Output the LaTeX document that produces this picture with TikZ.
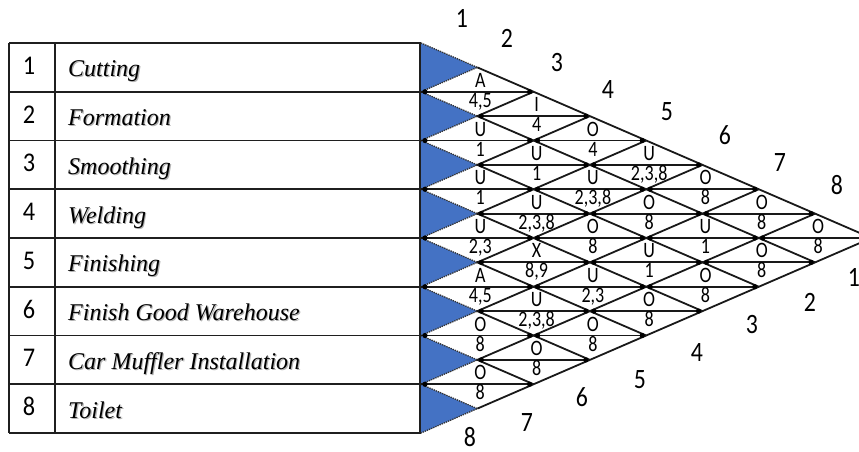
\documentclass[tikz,border=0pt]{standalone}
\usepackage{fontspec}
\setmainfont{Liberation Serif}
\newfontfamily\calibcell[FakeStretch=0.82]{Carlito}
\newfontfamily\calibnum[FakeStretch=0.85]{Carlito}
\newfontfamily\calibrow[FakeStretch=0.9]{Carlito}
\definecolor{relblue}{RGB}{68,114,196}
\begin{document}
\begin{tikzpicture}[x=1pt,y=-1pt,
  tbl/.style={line width=1.8pt, draw=black!88},
  gridline/.style={line width=1.8pt, draw=black!90},
  selfcell/.style={fill=relblue, draw=none},
  selfedge/.style={densely dotted, line width=1.3pt, draw=black!80},
  vdot/.style={circle, fill=black, inner sep=0pt, minimum size=5.2pt},
  rating/.style={font=\calibcell\fontsize{22}{22}\selectfont, inner sep=0pt, anchor=base},
  outnum/.style={font=\calibnum\fontsize{28}{28}\selectfont, inner sep=0pt},
  rownum/.style={font=\calibrow\fontsize{27}{27}\selectfont, inner sep=0pt, anchor=base},
  actname/.style={font=\itshape\fontsize{24}{24}\selectfont, inner sep=0pt, anchor=base west},
  actshadow/.style={actname, text=black!30},
]
\useasboundingbox (0,0) rectangle (859,452);
\fill[white] (0,0) rectangle (859,452);

% activity table
\foreach \k in {0,...,8}
  \draw[tbl] (9,{43+48.75*\k}) -- (421,{43+48.75*\k});
\draw[tbl] (9,43) -- (9,433);
\draw[tbl] (55,43) -- (55,433);
\draw[tbl] (420,43) -- (420,433);
\foreach \i/\name in {1/Cutting, 2/Formation, 3/Smoothing, 4/Welding,
                     5/Finishing, 6/Finish Good Warehouse,
                     7/Car Muffler Installation, 8/Toilet} {
  \node[rownum] (num\i) at (29,{43+48.75*(\i-0.5)+7}) {\i};
  \node[actshadow] (shadow\i) at (69.2,{43+48.75*(\i-0.5)+10.6}) {\name};
  \node[actname] (act\i) at (68,{43+48.75*(\i-0.5)+9.5}) {\name};
}

% relationship chart, in half-row units
\begin{scope}[shift={(421pt,-43pt)}, x=56.3pt, y=-24.375pt]
  % self cells
  \foreach \i in {1,...,8} {
    \fill[selfcell] (0,{2*\i-2}) -- (1,{2*\i-1}) -- (0,{2*\i}) -- cycle;
    \draw[selfedge] (0,{2*\i-2}) -- (1,{2*\i-1}) -- (0,{2*\i});
  }
  % diagonals
  \foreach \i in {1,...,8} {
    \draw[gridline] (1,{2*\i-1}) -- ({9-\i},{\i+7});
    \draw[gridline] (1,{2*\i-1}) -- (\i,\i);
  }
  % horizontal splits of the cells
  \foreach \v in {2,...,14} {
    \pgfmathsetmacro\hs{mod(\v,2)==0 ? 0 : 1}
    \pgfmathsetmacro\he{min(\v,16-\v)}
    \draw[gridline] (\hs,\v) -- (\he,\v);
  }
  % cell contents: closeness rating above, reasons below
  \foreach \i/\j/\r/\why in {
      1/2/A/{4,5}, 1/3/I/4, 1/4/O/4, 1/5/U/{2,3,8}, 1/6/O/8, 1/7/O/8, 1/8/O/8,
      2/3/U/1, 2/4/U/1, 2/5/U/{2,3,8}, 2/6/O/8, 2/7/U/1, 2/8/O/8,
      3/4/U/1, 3/5/U/{2,3,8}, 3/6/O/8, 3/7/U/1, 3/8/O/8,
      4/5/U/{2,3}, 4/6/X/{8,9}, 4/7/U/{2,3}, 4/8/O/8,
      5/6/A/{4,5}, 5/7/U/{2,3,8}, 5/8/O/8,
      6/7/O/8, 6/8/O/8,
      7/8/O/8} {
    \pgfmathsetmacro\u{\j-\i}
    \pgfmathsetmacro\v{\i+\j-1}
    \pgfmathsetmacro\ul{\u-1}
    \pgfmathsetmacro\ur{\u+1}
    \node[vdot] (dl\i\j) at ([xshift=4pt]\ul,\v) {};
    \node[vdot] (dr\i\j) at ([xshift=-4pt]\ur,\v) {};
    \node[rating] (rate\i\j) at ([xshift=3pt,yshift=4.5pt]\u,\v) {\r};
    \node[rating] (why\i\j) at ([xshift=3pt,yshift=-15.5pt]\u,\v) {\why};
  }
\end{scope}

% activity numbers along the two outer edges
\foreach \k/\px/\py in {1/462/18, 2/507/38, 3/557/63, 4/608/90,
                        5/667/112, 6/725/135, 7/780/163, 8/837/185}
  \node[outnum] (top\k) at (\px,\py) {\k};
\foreach \k/\px/\py in {1/854/277, 2/810/302, 3/752/325, 4/697/353,
                        5/640/380, 6/582/397, 7/527/423, 8/470/437}
  \node[outnum] (bot\k) at (\px,\py) {\k};
\end{tikzpicture}
\end{document}
